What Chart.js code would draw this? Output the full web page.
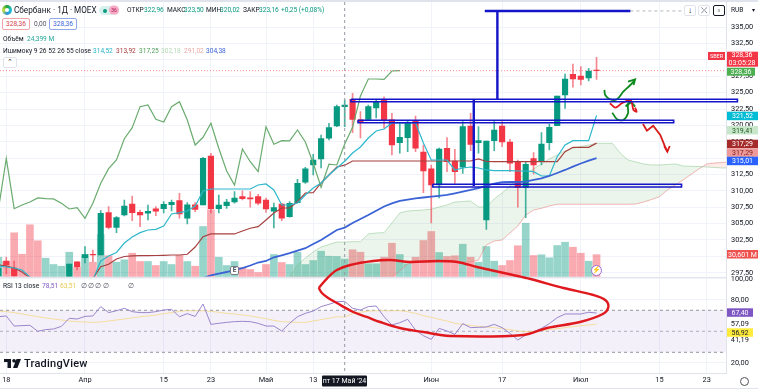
<!DOCTYPE html>
<html lang="ru">
<head>
<meta charset="utf-8">
<title>Сбербанк 1Д MOEX</title>
<script src="https://cdn.jsdelivr.net/npm/chart.js@4/dist/chart.umd.min.js"></script>
<style>
  html, body { margin: 0; padding: 0; background: #fff; }
  #wrap { position: relative; width: 758px; height: 389px; overflow: hidden; font-family: Roboto, sans-serif; color: #131722; }
  canvas { position: absolute; left: 0; top: 0; }
  .t { position: absolute; white-space: nowrap; font-size: 6.6px; line-height: 10px; transform: translateY(-50%); }
  .g { color: #089981; }
  .box { position: absolute; box-sizing: border-box; background: #fff; text-align: center; font-size: 6.6px; line-height: 10px; border-radius: 2px; }
  .btn { position: absolute; box-sizing: border-box; border: 1px solid #e0e3eb; border-radius: 2px; top: 5px; height: 11px; width: 12px; text-align: center; font-size: 8px; line-height: 9px; background: #fff; }
</style>
</head>
<body>
<div id="wrap">
  <canvas id="chartCanvas" width="758" height="389"></canvas>

  <!-- top and bottom strips -->
  <div style="position:absolute;left:0;top:0;width:758px;height:2px;background:#e0e3eb"></div>
  <div style="position:absolute;left:0;top:388px;width:758px;height:1px;background:#e0e3eb"></div>

  <!-- header -->
  <div style="position:absolute;left:2px;top:5px;width:10px;height:10px;border-radius:50%;background:conic-gradient(#21a038,#1ec6d8,#2a8fd8,#c9e23a,#21a038)"></div>
  <div style="position:absolute;left:5px;top:8px;width:4px;height:4px;border-radius:50%;background:#fff"></div>
  <div class="t" style="left:14px;top:10px;font-size:8.2px">Сбербанк · 1Д · MOEX</div>
  <div style="position:absolute;left:99px;top:6px;width:20px;height:9px;border-radius:5px;background:#d9f1ed"></div>
  <div style="position:absolute;left:103px;top:8.5px;width:4px;height:4px;border-radius:50%;background:#089981"></div>
  <div class="t" style="left:109px;top:10px;width:10px;height:9px;border-radius:5px;background:#f7a8c4;color:#a3174f;font-size:5px;line-height:9px;text-align:center">36</div>
  <div class="t" style="left:127px;top:10px">ОТКР</div><div class="t g" style="left:144px;top:10px">322,96</div>
  <div class="t" style="left:167px;top:10px">МАКС</div><div class="t g" style="left:184px;top:10px">323,50</div>
  <div class="t" style="left:206px;top:10px">МИН</div><div class="t g" style="left:220px;top:10px">320,02</div>
  <div class="t" style="left:243px;top:10px">ЗАКР</div><div class="t g" style="left:259px;top:10px">323,16</div>
  <div class="t g" style="left:281px;top:10px">+0,25 (+0,08%)</div>

  <div class="box" style="left:2px;top:18px;width:28px;height:12px;border:1px solid #f2a3a9;color:#d8424e">328,36</div>
  <div class="t" style="left:34px;top:24px;color:#50535e">0,00</div>
  <div class="box" style="left:49px;top:18px;width:28px;height:12px;border:1px solid #90a8ea;color:#3c63d6">328,36</div>

  <div class="t" style="left:3px;top:38.5px">Объём</div>
  <div class="t" style="left:27px;top:38.5px;color:#26a69a">24,399 M</div>

  <div class="t" style="left:3px;top:50.5px">Ишимоку 9 26 52 26 55 close</div>
  <div class="t" style="left:93px;top:50.5px;color:#26b3c9">314,52</div>
  <div class="t" style="left:116px;top:50.5px;color:#a83a3a">313,92</div>
  <div class="t" style="left:139px;top:50.5px;color:#4f9d5a">317,25</div>
  <div class="t" style="left:161px;top:50.5px;color:#b5d8b7">302,18</div>
  <div class="t" style="left:184px;top:50.5px;color:#e8a9a9">291,02</div>
  <div class="t" style="left:206px;top:50.5px;color:#3c63d6">304,38</div>
  <div class="box" style="left:3px;top:57px;width:14px;height:11px;border:1px solid #e0e3eb;font-size:7px;line-height:9px">⌃</div>

  <!-- rsi legend -->
  <div class="t" style="left:3px;top:285.5px">RSI 13 close</div>
  <div class="t" style="left:42px;top:285.5px;color:#7e57c2">78,51</div>
  <div class="t" style="left:60px;top:285.5px;color:#e8c94a">63,51</div>
  <div class="t" style="left:81px;top:285.5px;color:#50535e">∅</div>
  <div class="t" style="left:88px;top:285.5px;color:#50535e">∅</div>
  <div class="t" style="left:95px;top:285.5px;color:#50535e">∅</div>
  <div class="t" style="left:103px;top:285.5px;color:#50535e">∅</div>
  <div class="t" style="left:128px;top:285.5px;color:#50535e">∅</div>

  <!-- top right buttons -->
  <div class="btn" style="left:684px">↓</div>
  <div class="btn" style="left:698px">⤫</div>
  <div class="btn" style="left:713px;border-color:#131722">▫</div>
  <div class="t" style="left:731px;top:10px">RUB</div>
  <div class="t" style="left:752px;top:10px;font-size:6px">▾</div>

  <!-- earnings mark and flash icon -->
  <div class="box" style="left:230px;top:266px;width:9px;height:9px;border:1px solid #787b86;font-size:6.5px;line-height:7px;font-weight:700;color:#50535e">E</div>
  <div class="box" style="left:591px;top:265px;width:11px;height:11px;border-radius:50%;border:1px solid #9c6bd0;font-size:7px;line-height:9px;color:#9c6bd0">⚡</div>

  <!-- logo -->
  <svg style="position:absolute;left:4px;top:359px" width="17" height="9" viewBox="0 0 17 9"><path d="M0 0h7v9H3.5V3H0z M10 0a1.8 1.8 0 1 1 0 3.6a1.8 1.8 0 1 1 0-3.6z M12.5 0H17l-3.6 9H9z" fill="#131722"/></svg>
  <div class="t" style="left:24px;top:363.5px;font-size:11px;font-weight:500;letter-spacing:.02em">TradingView</div>

  <!-- crosshair date and gear -->
  <div class="t" style="left:322px;top:380.5px;width:45px;height:11px;background:#131722;color:#fff;font-size:7px;line-height:11px;text-align:center;border-radius:1px">пт 17 Май '24</div>
  <div style="position:absolute;left:740px;top:377px;width:7px;height:7px;border:1px solid #50535e;border-radius:50%"></div>
</div>

<script>
// candles, one row per trading day
const open = [296.99,299.28,298.21,295.4,295.0,294.6,294.2,294.9,295.3,296.5,299.17,299.79,300.31,300.2,306.66,304.43,306.31,307.99,306.72,306.57,307.27,307.27,307.88,308.5,305.81,307.88,307.84,315.32,307.27,307.73,308.3,309.11,308.95,309.11,308.6,306.88,307.99,306.05,308.19,311.31,313.95,314.87,318.03,319.91,322.86,323.99,320.83,320.93,322.66,323.88,320.83,317.36,318.12,320.72,315.94,313.38,310.89,316.5,314.56,313.6,319.91,317.36,305.55,317.66,319.91,317.46,314.36,310.54,314.91,314.45,317.36,319.95,324.64,327.81,327.55,327.24,328.46];
const high = [298.21,299.89,299.28,296.2,296.0,295.6,295.2,295.8,296.1,298.82,299.17,301.47,300.96,306.97,307.58,306.05,308.6,309.21,307.07,307.84,307.58,308.34,308.6,309.63,308.19,308.19,315.13,315.74,309.37,308.71,309.87,310.02,309.87,309.47,308.9,308.14,308.1,308.34,311.76,313.6,315.58,318.53,320.32,323.12,323.88,324.9,322.09,323.12,323.99,324.38,321.85,320.32,320.72,321.44,317.0,313.95,316.55,318.12,316.35,320.57,321.85,319.8,317.62,320.57,320.57,317.88,314.71,314.45,315.83,318.89,320.21,324.49,327.85,329.38,328.97,328.72,330.4];
const low = [296.5,297.3,296.7,294.8,294.4,294.0,293.8,294.2,294.8,296.3,297.91,298.98,299.17,300.2,304.17,303.6,306.16,305.44,304.52,305.55,306.2,306.62,306.92,305.81,304.93,306.81,307.84,306.62,306.62,307.33,308.1,308.6,307.49,307.84,306.72,304.32,305.44,305.96,308.14,311.15,312.42,313.49,317.77,319.8,319.8,318.89,318.07,320.83,321.13,319.6,315.48,315.74,315.98,315.98,309.72,305.09,308.91,312.93,311.15,312.68,316.13,315.74,304.12,316.13,316.75,312.93,307.49,305.9,312.57,313.95,316.24,320.06,322.61,325.82,326.17,326.78,327.04];
const close = [298.21,298.67,296.99,295.0,294.6,294.2,294.9,295.3,295.6,298.82,298.41,300.25,300.2,306.57,304.43,305.9,307.69,306.66,306.31,306.88,306.88,307.94,308.25,306.46,307.88,307.18,314.97,307.27,307.84,308.3,308.91,308.8,308.76,308.1,307.23,307.43,305.81,308.1,311.15,313.38,314.71,317.97,319.65,322.86,323.12,320.93,320.52,322.86,323.62,320.83,317.0,318.18,320.32,316.5,313.03,310.89,316.39,314.45,312.93,319.8,317.11,317.66,317.62,319.3,317.46,314.21,310.54,314.06,313.95,317.16,319.71,324.49,327.09,327.09,327.04,328.31,328.36];

// volume in millions
const volume = [27.0,21.0,61.2,31.2,72.4,50.0,25.6,16.8,14.4,34.0,13.0,30.8,20.0,58.8,29.0,20.0,23.4,32.6,21.0,21.0,15.4,21.0,16.8,29.4,21.0,14.4,70.0,93.4,27.0,15.4,21.0,12.6,9.8,5.6,16.8,30.8,19.6,16.8,34.0,16.8,22.4,35.4,28.4,28.0,24.4,37.4,34.0,17.8,17.8,27.0,46.6,30.8,17.8,27.0,50.4,63.0,33.6,28.0,29.0,45.2,27.0,20.0,42.0,21.4,15.4,22.4,43.0,74.6,29.4,30.4,26.2,43.4,48.0,41.0,32.6,21.4,30.6];

// ichimoku lines and the long moving average
const tenkan = [298.52,298.36,298.21,297.91,296.84,294.85,294.85,294.85,294.85,294.85,294.85,294.85,296.4,299.28,300.05,300.58,302.03,302.95,303.61,304.02,304.12,304.63,306.46,306.66,306.92,307.69,309.98,310.28,310.28,310.28,310.28,310.28,310.28,310.89,311.05,310.13,307.84,307.84,308.14,309.37,310.44,311.2,312.42,313.49,314.52,315.78,316.7,318.07,319.14,319.45,320.37,320.37,320.37,320.37,317.31,314.71,314.71,314.71,313.19,313.49,313.64,313.49,313.19,313.08,313.08,313.08,313.03,313.03,312.93,312.27,312.27,315.22,317.0,317.66,317.66,317.66,321.52];
const kijun = [298.67,298.52,298.21,297.6,296.69,294.85,294.85,294.85,294.85,294.85,294.85,294.85,296.6,298.41,298.78,299.59,299.97,300.05,300.09,300.09,300.12,300.15,300.2,300.2,300.31,301.42,303.0,303.41,303.41,303.41,303.41,303.87,304.28,304.52,305.55,306.62,307.38,307.38,308.34,309.67,309.72,311.2,312.42,313.64,313.92,314.56,314.56,314.56,314.56,314.56,314.56,314.56,314.56,314.56,314.56,314.56,314.56,314.56,314.56,314.56,314.56,314.87,314.48,314.45,314.45,314.45,314.45,314.45,314.45,314.45,314.45,314.45,315.98,316.65,316.65,316.65,317.29];
const chikou = [307.18,314.97,307.27,307.84,308.3,308.91,308.8,308.76,308.1,307.23,307.43,305.81,308.1,311.15,313.38,314.71,317.97,319.65,322.86,323.12,320.93,320.52,322.86,323.62,320.83,317.0,318.18,320.32,316.5,313.03,310.89,316.39,314.45,312.93,319.8,317.11,317.66,317.62,319.3,317.46,314.21,310.54,314.06,313.95,317.16,319.71,324.49,327.09,327.09,327.04,328.31,328.36];
const cloudStart = 37;
const spanA = [296.85,298.67,299.74,300.66,301.42,301.8,302.18,302.18,302.23,302.23,303.41,303.56,303.61,305.09,306.62,306.92,307.0,307.07,307.18,307.53,307.84,308.3,308.37,308.45,307.53,307.53,308.76,309.67,310.74,311.81,312.65,313.34,314.1,314.87,315.48,316.09,316.5,316.78,317.0,317.26,317.26,317.26,315.78,314.71,314.41,314.1,313.95,313.95,314.03,314.1,313.8,313.75,313.71,313.64,313.57,313.49,313.49];
const spanB = [296.85,296.85,296.85,296.85,296.85,296.85,296.85,296.85,296.85,296.85,296.85,296.85,296.85,296.84,297.75,298.82,299.13,299.13,299.13,299.13,299.13,299.13,299.13,299.13,299.43,301.73,302.34,302.49,303.56,304.63,306.31,307.07,307.33,307.69,307.95,307.95,307.95,307.95,307.95,307.95,307.95,307.95,307.95,307.95,307.99,308.3,308.68,309.11,310.13,310.89,311.66,312.5,313.34,314.1,314.25,314.33,314.41];
const maStart = 26;
const ma55 = [296.69,297.07,297.37,297.6,297.91,298.21,298.59,299.05,299.28,299.85,300.15,300.47,300.86,301.24,301.88,302.49,303.25,304.02,304.38,305.09,305.7,306.31,306.97,307.61,308.07,308.45,308.65,308.86,308.98,309.11,309.24,309.37,309.63,309.87,310.13,310.43,310.74,311.12,311.31,311.35,311.35,311.4,311.66,311.89,312.27,312.73,313.19,313.69,314.18,314.61,315.01];

// RSI pane
const rsi = [63.9,64.6,55.0,55.4,55.7,50.0,51.6,52.2,54.7,62.4,61.7,64.2,64.6,73.5,67.8,69.6,71.9,68.7,67.8,67.8,68.7,70.3,70.9,63.9,66.8,64.2,76.0,56.6,57.6,58.5,59.2,59.5,59.2,57.6,55.0,55.0,50.3,57.6,63.9,67.1,69.3,73.5,75.7,78.2,78.51,71.9,70.3,73.5,74.1,63.9,56.0,58.2,61.4,51.2,45.8,42.3,52.8,50.3,47.1,57.3,53.5,53.8,54.1,56.6,53.5,48.1,41.7,46.5,49.6,52.8,57.3,63.0,66.5,66.5,66.5,68.1,67.4];
const rsiMa = [69.3,68.7,67.8,66.5,65.2,63.9,62.7,61.7,60.8,59.8,59.2,58.9,58.5,58.9,59.8,60.8,61.7,62.7,63.9,64.6,65.5,66.8,67.8,69.0,69.6,69.6,69.6,69.0,68.1,67.1,66.5,65.5,64.6,63.3,62.0,60.4,59.2,58.9,58.5,58.5,59.8,61.1,62.4,63.9,63.51,66.8,68.1,69.3,69.6,69.6,69.6,69.6,68.7,67.1,64.9,63.3,61.4,59.8,57.6,56.6,55.7,54.7,54.1,53.5,52.5,51.6,50.3,49.6,50.0,50.6,51.6,52.5,53.5,54.4,55.4,56.0,56.92];

// axis ticks
const xTickIndex = [1,11,21,27,34,40,55,64,74,84,90];
const xTickLabels = ["18","Апр","15","23","Май","13","Июн","17","Июл","15","23"];
const priceTicks = [335,332.5,330,327.5,325,322.5,320,317.5,315,312.5,310,307.5,305,302.5,300,297.5];
const rsiTicks = [100,80,57.09,41.19,20];
const paneLine = [296.77]; // price at the border of the two panes

// hand drawn marks on the picture, as [bar, price]
const blueTop = [[61.8,337.48],[80.3,337.48]];
const blueTopDash = [[80.3,337.48],[87.9,337.48]];
const blueVert1 = [[63.4,337.48],[63.4,323.88]];
const blueVert2 = [[60.4,323.88],[60.4,310.74]];
const blueBox1 = [[44.8,323.99],[93.9,323.99],[93.9,323.62],[44.8,323.62],[44.8,323.99]];
const blueBox2 = [[45.7,320.78],[85.8,320.78],[85.8,320.41],[45.7,320.41],[45.7,320.78]];
const blueBox3 = [[55.2,311.0],[86.8,311.0],[86.8,310.59],[55.2,310.59],[55.2,311.0]];
const redLoop = [[40.7,295.16],[41.8,296.68],[43.0,297.91],[44.7,298.67],[47.6,299.28],[49.8,299.43],[52.3,299.13],[55.7,299.28],[58.3,299.13],[60.8,298.36],[62.5,297.91],[65.4,297.14],[67.6,296.53],[71.8,295.16],[75.6,294.09],[77.1,293.32],[77.5,292.25],[76.8,291.18],[73.9,289.96],[69.7,289.05],[66.7,287.98],[57.4,287.82],[54.0,288.43],[51.0,289.05],[48.5,289.96],[46.8,290.73],[45.1,291.49],[43.0,292.86],[41.9,293.63],[41.1,294.39],[40.7,295.16]];
const greenUp1 = [[77.0,325.41],[77.1,324.65],[77.7,323.99],[78.6,323.99],[79.4,325.15],[80.3,326.17],[80.8,326.83]];
const greenHead1 = [[80.0,326.68],[80.9,327.04],[80.7,326.17]];
const greenUp2 = [[78.0,321.94],[78.6,320.93],[79.4,320.83],[80.0,321.85],[80.0,323.12],[80.5,323.62]];
const greenHead2 = [[79.7,322.86],[80.3,323.73],[80.9,322.86]];
const redHook = [[77.7,323.38],[78.4,322.71],[79.2,323.38],[80.3,323.88],[80.5,323.38],[80.7,322.35],[81.1,322.09],[80.9,322.71]];
const redDown = [[81.9,320.21],[82.4,319.19],[83.2,319.95],[84.1,318.53],[84.7,316.75],[85.0,315.98]];
const redHead = [[84.6,316.85],[85.0,315.98],[85.3,316.85]];

const UP = "#089981", DOWN = "#f23645";
const xMin = 0.2, xMax = 92.45;
const paneClip = { left: 0, right: 0, top: 0, bottom: -96.5 }; // price pane ends at y=276.5

const isUp = close.map((c, i) => c >= open[i]);

function series(values, start) {
  return values.map((v, i) => ({ x: start + i, y: v }));
}
function pairs(list) {
  return list.map(p => ({ x: p[0], y: p[1] }));
}
function line(values, start, color, width, order, extra) {
  return Object.assign({
    type: "line", data: series(values, start), borderColor: color, borderWidth: width,
    pointRadius: 0, order: order, yAxisID: "y", clip: paneClip, fill: false
  }, extra);
}
function mark(list, color, width, extra) {
  return Object.assign({
    type: "line", data: pairs(list), borderColor: color, borderWidth: width,
    pointRadius: 0, order: 0, yAxisID: "y", clip: false, fill: false
  }, extra);
}
function hline(y, axis, color, dash, order, extra) {
  return Object.assign({
    type: "line", data: [{ x: xMin, y: y }, { x: xMax, y: y }], borderColor: color, borderWidth: 1,
    borderDash: dash, pointRadius: 0, order: order, yAxisID: axis, fill: false
  }, extra);
}
// scales must not push the plot area around for half a label height
function noPadding(axis) {
  axis.paddingTop = axis.paddingBottom = axis.paddingLeft = axis.paddingRight = 0;
}

const datasets = [
  // volume
  { type: "bar", data: volume.map((v, i) => ({ x: i, y: v })), yAxisID: "yv", order: 9, grouped: false, barThickness: 7,
    backgroundColor: isUp.map(u => u ? "rgba(8,153,129,0.42)" : "rgba(242,54,69,0.42)") },
  // cloud, the fill needs span B right after span A
  line(spanA, cloudStart, "rgba(120,190,125,0.45)", 1, 8, { fill: { target: "+1", above: "rgba(67,160,71,0.1)", below: "rgba(244,67,54,0.1)" } }),
  line(spanB, cloudStart, "rgba(235,130,125,0.55)", 1, 8),
  // candles
  { type: "bar", data: high.map((h, i) => ({ x: i, y: [low[i], h] })), yAxisID: "y", order: 7, grouped: false, barThickness: 1, clip: paneClip,
    backgroundColor: isUp.map(u => u ? "rgba(8,153,129,0.75)" : "rgba(242,54,69,0.6)") },
  { type: "bar", data: open.map((o, i) => ({ x: i, y: [o, close[i]] })), yAxisID: "y", order: 6, grouped: false, barThickness: 5.5, clip: paneClip,
    backgroundColor: isUp.map(u => u ? UP : DOWN) },
  // ichimoku and ma
  line(chikou, 0, "#6aab6e", 1.2, 5),
  line(tenkan, 0, "#2eb8cc", 1.2, 4),
  line(kijun, 0, "#a8403f", 1.2, 4),
  line(ma55, maStart, "#3c63d6", 1.8, 3),
  // last price, pane border and crosshair
  hline(328.36, "y", "rgba(242,54,69,0.55)", [1, 2], 2),
  hline(paneLine[0], "y", "#e0e3eb", [], 2),
  { type: "line", data: [{ x: 44, y: 338.85 }, { x: 44, y: 282.17 }], borderColor: "#9598a1", borderWidth: 1, borderDash: [3, 3], pointRadius: 0, order: 2, yAxisID: "y" },
  // rsi band
  hline(70, "yr", "#9598a1", [3, 3], 8, { backgroundColor: "rgba(126,87,194,0.09)", fill: "+1" }),
  hline(30, "yr", "#9598a1", [3, 3], 8),
  hline(50, "yr", "#b2b5be", [3, 3], 8),
  line(rsiMa, 0, "rgba(245,215,130,0.75)", 1, 5, { yAxisID: "yr", clip: undefined }),
  line(rsi, 0, "#9a86cc", 1, 4, { yAxisID: "yr", clip: undefined }),
  // hand drawn marks
  mark(blueTop, "#1414c8", 2.4),
  mark(blueTopDash, "#b2b5be", 1, { borderDash: [3, 3] }),
  mark(blueVert1, "#1414c8", 2.4),
  mark(blueVert2, "#1414c8", 2.4),
  mark(blueBox1, "#1414c8", 1.6),
  mark(blueBox2, "#1414c8", 1.6),
  mark(blueBox3, "#1414c8", 1.6),
  mark(redLoop, "#e0191f", 2.4, { tension: 0.35 }),
  mark(redHook, "#e0191f", 1.8, { tension: 0.3 }),
  mark(redDown, "#d81b1b", 1.8),
  mark(redHead, "#d81b1b", 1.8),
  mark(greenUp1, "#0d8a1d", 1.8, { tension: 0.3 }),
  mark(greenHead1, "#0d8a1d", 1.8),
  mark(greenUp2, "#0d8a1d", 1.8, { tension: 0.3 }),
  mark(greenHead2, "#0d8a1d", 1.8)
];

// coloured price tags on the right scale
const priceTags = [
  { top: 67.7, h: 8, w: 28, bg: "#4caf50", fg: "#fff", text: "328,36" },
  { top: 111.7, h: 8.5, w: 31, bg: "#00bcd4", fg: "#fff", text: "321,52" },
  { top: 126, h: 8.5, w: 31, bg: "#c8e6c9", fg: "#1b5e20", text: "319,41" },
  { top: 139.7, h: 8.5, w: 31, bg: "#a52a2a", fg: "#fff", text: "317,29" },
  { top: 148.3, h: 8.5, w: 31, bg: "#ef9a9a", fg: "#7f1d1d", text: "317,29" },
  { top: 156.7, h: 8.5, w: 31, bg: "#2962ff", fg: "#fff", text: "315,01" },
  { top: 250, h: 8.5, w: 31, bg: "#ef5350", fg: "#fff", text: "30,601 M" },
  { top: 308.3, h: 8.5, w: 26, bg: "#7e57c2", fg: "#fff", text: "67,40" },
  { top: 328.3, h: 8.5, w: 26, bg: "#ffeb3b", fg: "#131722", text: "56,92" }
];

const tagPlugin = {
  id: "priceTags",
  afterDraw(chart) {
    const c = chart.ctx;
    c.save();
    c.textBaseline = "middle";
    c.font = "7px Roboto";
    c.textAlign = "center";
    priceTags.forEach(t => {
      c.fillStyle = t.bg;
      c.fillRect(727, t.top, t.w, t.h);
      c.fillStyle = t.fg;
      c.fillText(t.text, 727 + t.w / 2, t.top + t.h / 2 + 0.5);
    });
    // current price with countdown, and the ticker next to it
    c.fillStyle = DOWN;
    c.fillRect(727, 51.7, 31, 15);
    c.fillRect(708, 52, 17, 8);
    c.fillStyle = "#fff";
    c.fillText("328,36", 742, 55.5);
    c.fillText("03:05:28", 742, 63);
    c.font = "5.5px Roboto";
    c.fillText("SBER", 716.5, 56.3);
    c.restore();
  }
};

const ctx = document.getElementById("chartCanvas").getContext("2d");
new Chart(ctx, {
  data: { datasets: datasets },
  plugins: [tagPlugin],
  options: {
    responsive: false,
    animation: false,
    layout: { autoPadding: false, padding: { top: 2, left: 0, right: 0, bottom: 0 } },
    plugins: { legend: { display: false }, tooltip: { enabled: false } },
    scales: {
      x: {
        type: "linear", min: xMin, max: xMax, offset: false,
        afterBuildTicks: axis => { axis.ticks = xTickIndex.map(v => ({ value: v })); },
        afterFit: axis => { axis.height = 16; noPadding(axis); },
        grid: { color: "#f0f3fa", drawTicks: false, offset: false },
        border: { color: "#e0e3eb" },
        ticks: {
          autoSkip: false, maxRotation: 0, padding: 3, color: "#131722", font: { size: 7.4, family: "Roboto" },
          callback: v => xTickLabels[xTickIndex.indexOf(v)]
        }
      },
      // no width of its own, mirror keeps the labels from being clipped to the zero wide box
      yr: {
        type: "linear", position: "right", weight: -1, min: 10.29, max: 363.6,
        afterBuildTicks: axis => { axis.ticks = rsiTicks.map(v => ({ value: v })); },
        afterFit: axis => { axis.width = 0; noPadding(axis); },
        grid: { color: c => (c.tick && (c.tick.value === 57.09 || c.tick.value === 41.19)) ? "rgba(0,0,0,0)" : "#f0f3fa", drawTicks: false },
        border: { display: false },
        ticks: {
          autoSkip: false, mirror: true, crossAlign: "far", padding: 27, color: "#131722", font: { size: 7.4, family: "Roboto" },
          callback: v => v.toFixed(2).replace(".", ",")
        }
      },
      y: {
        type: "linear", position: "right", weight: 1, min: 282.17, max: 338.85,
        afterBuildTicks: axis => { axis.ticks = priceTicks.map(v => ({ value: v })); },
        afterFit: axis => { axis.width = 32; noPadding(axis); },
        grid: { color: "#f0f3fa", drawTicks: false },
        border: { color: "#e0e3eb" },
        ticks: {
          autoSkip: false, padding: 5, color: "#131722", font: { size: 7.4, family: "Roboto" },
          callback: v => v.toFixed(2).replace(".", ",")
        }
      },
      yv: { type: "linear", display: false, position: "left", min: -135.1, max: 384.3 }
    }
  }
});
</script>
</body>
</html>
